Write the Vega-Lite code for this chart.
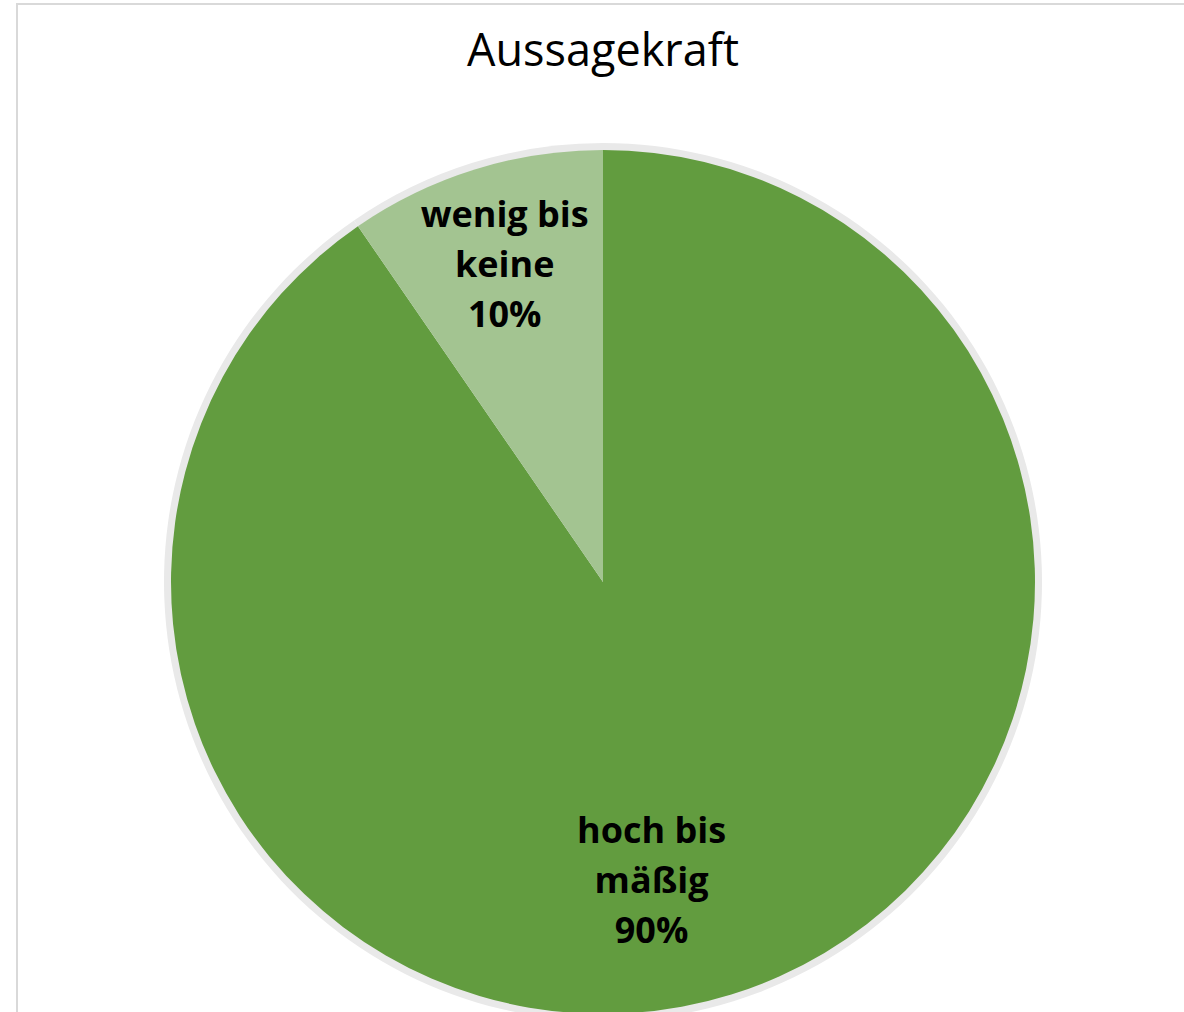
{
  "$schema": "https://vega.github.io/schema/vega-lite/v6.json",
  "autosize": "none",
  "width": 1172,
  "height": 1156,
  "padding": {"left": 17, "top": 4, "right": 0, "bottom": 0},
  "background": "white",
  "view": {"stroke": "#d9d9d9", "strokeWidth": 2, "fill": null},
  "title": {
    "text": "Aussagekraft",
    "font": "Open Sans",
    "fontSize": 45,
    "fontWeight": "normal",
    "color": "#000000",
    "anchor": "middle",
    "baseline": "alphabetic",
    "offset": -107
  },
  "data": {
    "values": [
      {"kategorie": "hoch bis mäßig", "anteil": 90.4},
      {"kategorie": "wenig bis keine", "anteil": 9.6}
    ]
  },
  "transform": [
    {"calculate": "replace(datum.kategorie, ' bis ', ' bis\\n') + '\\n' + round(datum.anteil) + '%'", "as": "label"},
    {"stack": "anteil", "groupby": [], "sort": [{"field": "anteil", "order": "descending"}], "as": ["t0", "t1"]},
    {"calculate": "(datum.t0 + datum.t1) / 2", "as": "tm"}
  ],
  "layer": [
    {
      "mark": {"type": "arc", "radius": 439, "fill": "#e9e9e9", "stroke": null},
      "encoding": {
        "theta": {"field": "t0", "type": "quantitative", "scale": {"domain": [0, 100]}},
        "theta2": {"field": "t1"}
      }
    },
    {
      "mark": {"type": "arc", "radius": 432, "stroke": null},
      "encoding": {
        "theta": {"field": "t0", "type": "quantitative"},
        "theta2": {"field": "t1"},
        "color": {
          "field": "kategorie",
          "type": "nominal",
          "scale": {"domain": ["hoch bis mäßig", "wenig bis keine"], "range": ["#629C3F", "#A3C491"]},
          "legend": null
        }
      }
    },
    {
      "transform": [{"filter": "datum.kategorie == 'hoch bis mäßig'"}],
      "mark": {"type": "text", "radius": 315, "dx": -45, "dy": -51, "font": "Open Sans", "fontSize": 36, "fontWeight": "bold", "color": "#000000", "lineBreak": "\n", "lineHeight": 50, "align": "center", "baseline": "middle"},
      "encoding": {
        "theta": {"field": "tm", "type": "quantitative"},
        "text": {"field": "label"}
      }
    },
    {
      "transform": [{"filter": "datum.kategorie == 'wenig bis keine'"}],
      "mark": {"type": "text", "radius": 331, "dx": 0, "dy": -50, "font": "Open Sans", "fontSize": 36, "fontWeight": "bold", "color": "#000000", "lineBreak": "\n", "lineHeight": 50, "align": "center", "baseline": "middle"},
      "encoding": {
        "theta": {"field": "tm", "type": "quantitative"},
        "text": {"field": "label"}
      }
    }
  ]
}
